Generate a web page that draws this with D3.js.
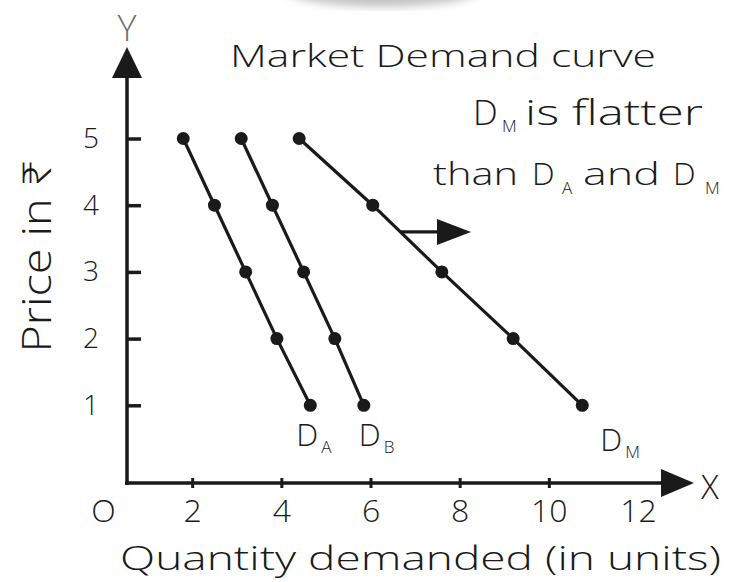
<!DOCTYPE html>
<html>
<head>
<meta charset="utf-8">
<script src="https://cdn.jsdelivr.net/npm/d3@7"></script>
<style>
  html, body { margin: 0; padding: 0; background: #fff; }
  text { font-family: "Open Sans", "Noto Sans", sans-serif; font-weight: 300; fill: #1a1a1a; }
</style>
</head>
<body>
<svg id="chart" width="738" height="582"></svg>
<script>
// price schedule (same for every curve)
var prices = [5, 4, 3, 2, 1];
// quantity demanded at each price
var qtyA = [1.8, 2.5, 3.2, 3.9, 4.65];
var qtyB = [3.1, 3.8, 4.5, 5.2, 5.85];
var qtyM = [4.4, 6.05, 7.6, 9.2, 10.75];
var curveNames = ["A", "B", "M"];
var xTicks = [0, 2, 4, 6, 8, 10, 12];
var yTicks = [1, 2, 3, 4, 5];

var svg = d3.select("#chart");
var ink = "#1a1a1a";

// where the hand drawn axes cross
var axisX = 127, axisY = 483;

var x = d3.scaleLinear().domain([0, 12]).range([103, 638]);
var y = d3.scaleLinear().domain([0, 5]).range([472, 138.5]);

// faint shadow at the top edge
var defs = svg.append("defs");
defs.append("filter").attr("id", "blur")
  .append("feGaussianBlur").attr("stdDeviation", 4);
svg.append("ellipse")
  .attr("cx", 383).attr("cy", -12).attr("rx", 100).attr("ry", 19)
  .attr("fill", "#c4c4c4").attr("filter", "url(#blur)");

// y axis ticks + labels
var yAxis = svg.append("g")
  .attr("transform", "translate(" + axisX + ",0)")
  .call(d3.axisLeft(y).tickValues(yTicks).tickFormat(d3.format("d"))
    .tickSizeInner(-14).tickSizeOuter(0).tickPadding(28));
yAxis.select(".domain").remove();
yAxis.selectAll("line").attr("stroke", ink).attr("stroke-width", 3.5);
yAxis.selectAll("text").attr("font-size", 28).attr("fill", ink)
  .attr("font-family", null);

// x axis ticks + labels
var xAxis = svg.append("g")
  .attr("transform", "translate(0," + axisY + ")")
  .call(d3.axisBottom(x).tickValues(xTicks)
    .tickFormat(d => d === 0 ? "O" : d)
    .tickSizeInner(5).tickSizeOuter(0).tickPadding(11));
xAxis.select(".domain").remove();
xAxis.selectAll(".tick line")
  .attr("y1", -5).attr("stroke", ink).attr("stroke-width", 3)
  .filter(d => d === 0 || d === 12).remove();
xAxis.selectAll("text").attr("font-size", 32).attr("fill", ink)
  .attr("font-family", null);

// axis lines with arrow heads
svg.append("line")
  .attr("x1", axisX).attr("y1", axisY + 2).attr("x2", axisX).attr("y2", 75)
  .attr("stroke", ink).attr("stroke-width", 3.5);
svg.append("path")
  .attr("d", "M" + axisX + ",47L" + (axisX - 15) + ",78L" + (axisX + 15) + ",78Z")
  .attr("fill", ink);
svg.append("line")
  .attr("x1", axisX - 2).attr("y1", axisY).attr("x2", 664).attr("y2", axisY)
  .attr("stroke", ink).attr("stroke-width", 3.5);
svg.append("path")
  .attr("d", "M694," + axisY + "L661," + (axisY - 14) + "L661," + (axisY + 14) + "Z")
  .attr("fill", ink);

svg.append("text").attr("x", axisX).attr("y", 41).attr("text-anchor", "middle")
  .attr("font-size", 36).style("fill", "#6f6f6f").text("Y");
svg.append("text").attr("x", 701).attr("y", 499)
  .attr("font-size", 33).text("X");

// demand curves
var curves = [qtyA, qtyB, qtyM].map((q, i) => ({
  name: curveNames[i],
  pts: prices.map((p, j) => ({ p: p, q: q[j] }))
}));

var line = d3.line().x(d => x(d.q)).y(d => y(d.p));

var g = svg.append("g");
g.selectAll("path.curve").data(curves).enter().append("path")
  .attr("class", "curve")
  .attr("d", d => line(d.pts))
  .attr("fill", "none").attr("stroke", ink).attr("stroke-width", 3.2);

g.selectAll("g.dots").data(curves).enter().append("g")
  .selectAll("circle").data(d => d.pts).enter().append("circle")
  .attr("cx", d => x(d.q)).attr("cy", d => y(d.p)).attr("r", 6.5)
  .attr("fill", ink);

// curve labels under the last point
var labelDx = { A: -14, B: -5, M: 18 };
var labelDy = { A: 41, B: 41, M: 46 };
var lab = svg.selectAll("text.clabel").data(curves).enter().append("text")
  .attr("class", "clabel")
  .attr("x", d => x(d.pts[4].q) + labelDx[d.name])
  .attr("y", d => y(d.pts[4].p) + labelDy[d.name])
  .attr("font-size", 31);
lab.append("tspan").text("D");
lab.append("tspan").attr("dx", 3).attr("dy", 7).attr("font-size", 17).text(d => d.name);

// rightward shift arrow off the market curve
var shiftP = 3.6;
var qAt = d3.scaleLinear().domain(prices).range(qtyM);
var ax0 = x(qAt(shiftP)), ay = y(shiftP);
svg.append("line")
  .attr("x1", ax0).attr("y1", ay).attr("x2", 440).attr("y2", ay)
  .attr("stroke", ink).attr("stroke-width", 3.2);
svg.append("path")
  .attr("d", "M471," + ay + "L437," + (ay - 13) + "L437," + (ay + 13) + "Z")
  .attr("fill", ink);

// annotation
svg.append("text").attr("x", 230).attr("y", 67).attr("font-size", 32)
  .attr("textLength", 426).attr("lengthAdjust", "spacingAndGlyphs")
  .text("Market Demand curve");

var l2 = svg.append("text").attr("y", 125).attr("font-size", 35);
l2.append("tspan").attr("x", 473).text("D");
l2.append("tspan").attr("x", 502).attr("dy", 7).attr("font-size", 17).text("M");
l2.append("tspan").attr("x", 525).attr("dy", -7)
  .attr("textLength", 178).attr("lengthAdjust", "spacingAndGlyphs").text("is flatter");

var l3 = svg.append("text").attr("y", 185).attr("font-size", 32);
l3.append("tspan").attr("x", 433)
  .attr("textLength", 85).attr("lengthAdjust", "spacingAndGlyphs").text("than");
l3.append("tspan").attr("x", 532).text("D");
l3.append("tspan").attr("x", 562).attr("dy", 9).attr("font-size", 17).text("A");
l3.append("tspan").attr("x", 583).attr("dy", -9)
  .attr("textLength", 77).attr("lengthAdjust", "spacingAndGlyphs").text("and");
l3.append("tspan").attr("x", 673).text("D");
l3.append("tspan").attr("x", 705).attr("dy", 9).attr("font-size", 17).text("M");

// axis titles
svg.append("text").attr("x", 120).attr("y", 570).attr("font-size", 33)
  .attr("textLength", 601).attr("lengthAdjust", "spacingAndGlyphs")
  .text("Quantity demanded (in units)");

svg.append("text")
  .attr("transform", "translate(51,256) rotate(-90)")
  .attr("text-anchor", "middle").attr("font-size", 40)
  .attr("textLength", 193).attr("lengthAdjust", "spacingAndGlyphs")
  .text("Price in ₹");
</script>
</body>
</html>
